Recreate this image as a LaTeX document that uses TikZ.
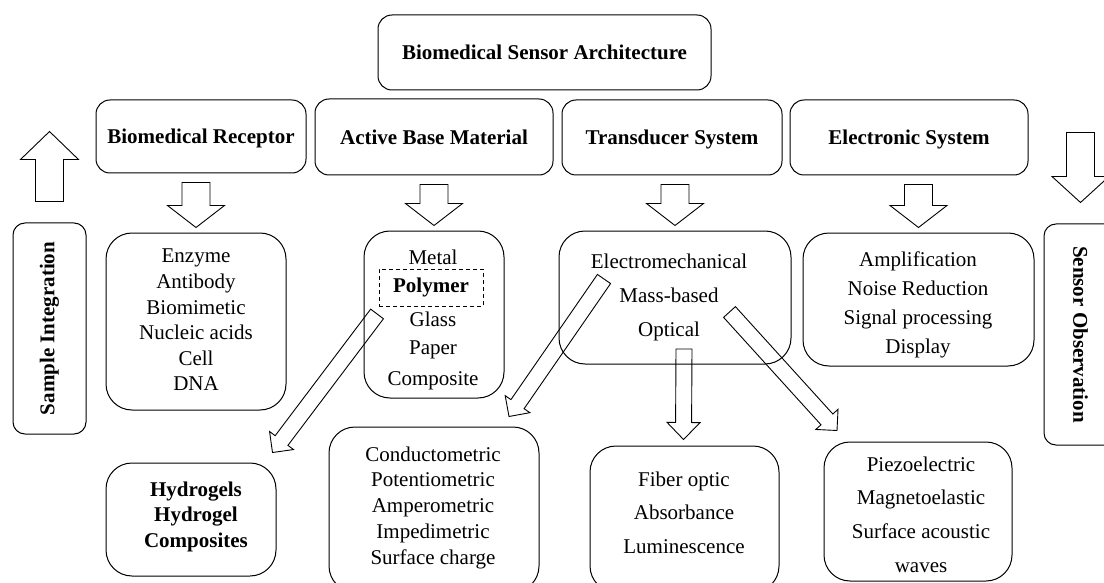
\documentclass[tikz,border=0pt]{standalone}
\usepackage{fontspec}
\setmainfont{Liberation Serif}
\usetikzlibrary{calc}

\tikzset{
  headbox/.style={draw, rounded corners=14pt, line width=1pt, font=\fontsize{21}{25}\selectfont\bfseries, align=center, text depth=0pt},
  listbox/.style={draw, rounded corners=26pt, line width=1pt},
  listtext/.style={font=\fontsize{21}{#1}\selectfont, align=center},
  boldtext/.style={font=\fontsize{21}{#1}\selectfont\bfseries, align=center},
  sidebox/.style={draw, rounded corners=12pt, line width=1pt, minimum height=73pt, font=\fontsize{21}{25}\selectfont\bfseries},
  fatline/.style={line width=0.9pt, line join=miter},
}

% block arrow: tail, tip, shaft half width, head half width, head length
\newcommand\fatarrow[5]{\draw[fatline] ($(#1)!#3!90:(#2)$) -- ($($(#2)!#5!(#1)$)!#3!90:(#2)$)
  -- ($($(#2)!#5!(#1)$)!#4!90:(#2)$) -- (#2)
  -- ($($(#2)!#5!(#1)$)!#4!-90:(#2)$) -- ($($(#2)!#5!(#1)$)!#3!-90:(#2)$)
  -- ($(#1)!#3!-90:(#2)$) -- cycle;}

\begin{document}
\begin{tikzpicture}[x=1pt, y=-1pt]
		%%%%% START %%%%%
		\useasboundingbox (0,0) rectangle (1104,583);
		\clip (0,0) rectangle (1104,583);
		
		\node[headbox, minimum width=333pt, minimum height=75pt] (arch) at (544.5,52.5) {Biomedical Sensor Architecture};
		
		\node[headbox, minimum width=210pt, minimum height=73pt] (rec) at (201,136.5) {Biomedical Receptor};
		\node[headbox, minimum width=238pt, minimum height=76pt] (abm) at (434,137) {Active Base Material};
		\node[headbox, minimum width=220pt, minimum height=75pt] (trs) at (672,137.5) {Transducer System};
		\node[headbox, minimum width=238pt, minimum height=75pt] (els) at (909,137.5) {Electronic System};
		
		\node[sidebox, rotate=90, minimum width=211pt] (sample) at (49.5,328.5) {Sample Integration};
		\node[sidebox, rotate=-90, minimum width=221pt] (obs) at (1080.5,334.5) {Sensor Observation};
		
		% receptor list
		\node[listbox, minimum width=180pt, minimum height=177pt] (reclist) at (196,321.5) {};
		\node[listtext=25.6] (rectxt) at (196,320) {Enzyme\\Antibody\\Biomimetic\\Nucleic acids\\Cell\\DNA};
		
		% base material list
		\node[listbox, minimum width=140pt, minimum height=167pt] (abmlist) at (434,314.5) {};
		\node[listtext=25] (metal) at (433,257) {Metal};
		\node[boldtext=25, draw, dash pattern=on 4pt off 3pt, line width=0.9pt, minimum width=104pt, minimum height=37pt] (polymer) at (431,287.5) {Polymer};
		\node[listtext=25] (glass) at (433,319) {Glass};
		\node[listtext=25] (paper) at (433,350) {Paper};
		\node[listtext=25] (composite) at (433,381) {Composite};
		
		% transducer list
		\node[listbox, minimum width=232pt, minimum height=133pt] (trslist) at (675,297.5) {};
		\node[listtext=34] (trstxt) at (669,297) {Electromechanical\\Mass-based\\Optical};
		
		% electronic list
		\node[listbox, minimum width=231pt, minimum height=133pt] (elslist) at (918.5,299.5) {};
		\node[listtext=29] (elstxt) at (918,305) {Amplification\\Noise Reduction\\Signal processing\\Display};
		
		% bottom row
		\node[listbox, minimum width=170pt, minimum height=113pt] (hyd) at (191,519.5) {};
		\node[boldtext=25.5] (hydtxt) at (196,516.5) {Hydrogels\\Hydrogel\\Composites};
		
		\node[listbox, minimum width=210pt, minimum height=165pt] (cond) at (434,509.5) {};
		\node[listtext=25.75] (condtxt) at (433,507.5) {Conductometric\\Potentiometric\\Amperometric\\Impedimetric\\Surface charge};
		
		\node[listbox, minimum width=189pt, minimum height=146pt] (fib) at (684.5,519) {};
		\node[listtext=33.5] (fibtxt) at (684,512.5) {Fiber optic\\Absorbance\\Luminescence};
		
		\node[listbox, minimum width=188pt, minimum height=139pt] (piezo) at (918,511.5) {};
		\node[listtext=33.7] (piezotxt) at (921,514.5) {Piezoelectric\\Magnetoelastic\\Surface acoustic\\waves};
		
		% big arrows
		\coordinate (uptail) at ($(sample.east)+(0,-21)$);
		\coordinate (uptip) at ($(sample.east)+(0,-91)$);
		\fatarrow{uptail}{uptip}{14pt}{29pt}{28pt}
		\coordinate (obstail) at ($(obs.west)+(0,-91)$);
		\coordinate (obstip) at ($(obs.west)+(0,-21)$);
		\fatarrow{obstail}{obstip}{14pt}{28.5pt}{26pt}
		
		\foreach \hd/\ls in {rec/reclist, abm/abmlist, trs/trslist, els/elslist}{
			\coordinate (\hd tail) at ($(\ls.north |- \hd.south)+(0,9)$);
			\coordinate (\hd tip) at ($(\ls.north)+(0,-5)$);
			\fatarrow{\hd tail}{\hd tip}{14pt}{28.5pt}{22pt}
		}
		
		% thin arrows
		\coordinate (poltail) at ($(polymer.south west)+(-1.5,7.5)$);
		\coordinate (poltip) at ($(hyd.north east)+(-4,-10)$);
		\fatarrow{poltail}{poltip}{8pt}{15pt}{15pt}
		
		\coordinate (emtail) at ($(trslist.center)+(-71,-18.5)$);
		\coordinate (emtip) at ($(cond.north)+(75,-10)$);
		\fatarrow{emtail}{emtip}{8pt}{15pt}{15pt}
		
		\coordinate (masstail) at ($(trslist.center)+(54.5,14.5)$);
		\coordinate (masstip) at ($(piezo.north)+(-81,-11)$);
		\fatarrow{masstail}{masstip}{8pt}{15pt}{15pt}
		
		\coordinate (opttail) at ($(trslist.center)+(9,51.5)$);
		\coordinate (opttip) at ($(fib.north)+(-1,-6)$);
		\fatarrow{opttail}{opttip}{8pt}{16.5pt}{17pt}
		
		%%%%% END %%%%%
	\end{tikzpicture}
\end{document}
